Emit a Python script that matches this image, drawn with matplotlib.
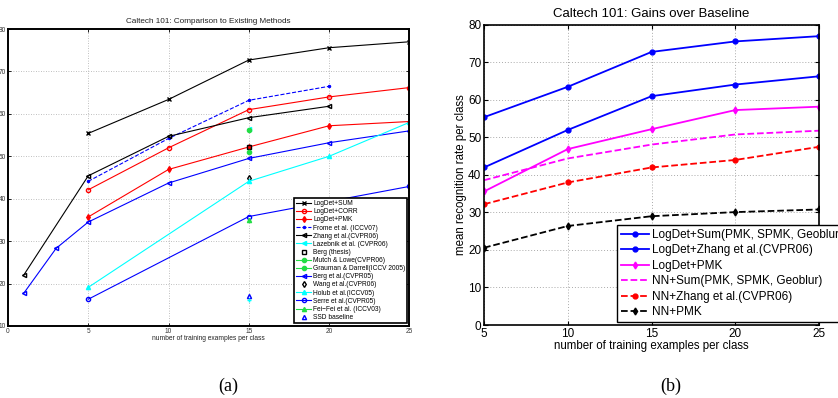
import matplotlib
matplotlib.use("Agg")
import matplotlib.pyplot as plt

plt.rcParams['font.family'] = ['Liberation Sans', 'DejaVu Sans']

# ---- left panel data (a) ----
x5 = [5, 10, 15, 20, 25]
logdet_sum = [55.4, 63.4, 72.7, 75.6, 77.0]
logdet_corr = [42.1, 52.0, 61.0, 64.0, 66.2]
logdet_pmk = [35.7, 46.9, 52.2, 57.2, 58.2]
frome_x = [5, 10, 15, 20]
frome = [44.1, 54.2, 63.2, 66.5]
zhang_x = [1, 5, 10, 15, 20]
zhang = [22.1, 45.4, 54.7, 59.1, 61.8]
lazebnik_x = [15]
lazebnik = [56.4]
berg_thesis_x = [15]
berg_thesis = [52.2]
mutch_x = [15]
mutch = [56.2]
grauman_x = [15]
grauman = [51.0]
berg_x = [1, 3, 5, 10, 15, 20, 25]
berg = [17.8, 28.3, 34.5, 43.7, 49.5, 53.2, 56.0]
wang_x = [15]
wang = [45.0]
holub_x = [5, 15, 20, 25]
holub = [19.1, 44.1, 50.0, 58.0]
serre_x = [5, 15, 25]
serre = [16.3, 35.8, 42.9]
feifei_x = [15]
feifei = [35.0]
extra_x = [15]
extra = [16.2]
ssd_x = [15]
ssd = [17.1]

# ---- right panel data (b) ----
xb = [5, 10, 15, 20, 25]
b_logdet_sum = [55.4, 63.5, 72.8, 75.6, 77.0]
b_logdet_zhang = [42.0, 52.0, 61.0, 64.1, 66.3]
b_logdet_pmk = [35.6, 46.9, 52.2, 57.3, 58.2]
b_nn_sum = [38.6, 44.4, 48.1, 50.8, 51.8]
b_nn_zhang = [32.2, 38.0, 42.0, 44.0, 47.5]
b_nn_pmk = [20.6, 26.4, 29.0, 30.1, 30.8]

fig = plt.figure(figsize=(8.38, 3.98), dpi=100)

BLUE = '#0000ff'
GREEN = '#22dd44'
CYAN = '#00ffff'

# ================= (a) =================
ax1 = fig.add_axes([0.0095, 0.181, 0.479, 0.746])
lw = 0.8
ms = 3
ax1.plot(x5, logdet_sum, 'k-', marker='x', lw=lw, ms=ms, label='LogDet+SUM')
ax1.plot(x5, logdet_corr, 'r-', marker='o', mfc='none', lw=lw, ms=ms, label='LogDet+CORR')
ax1.plot(x5, logdet_pmk, 'r-', marker='d', lw=lw, ms=ms, label='LogDet+PMK')
ax1.plot(frome_x, frome, '--', color=BLUE, marker='.', lw=lw, ms=ms, label='Frome et al. (ICCV07)')
ax1.plot(zhang_x, zhang, 'k-', marker='<', mfc='none', lw=lw, ms=ms, label='Zhang et al.(CVPR06)')
ax1.plot(lazebnik_x, lazebnik, '-', color=CYAN, marker='<', lw=lw, ms=ms, label='Lazebnik et al. (CVPR06)')
ax1.plot(berg_thesis_x, berg_thesis, 'ks', mfc='none', ms=2.5, label='Berg (thesis)')
ax1.plot(mutch_x, mutch, '-', color=GREEN, marker='o', lw=lw, ms=ms, label='Mutch & Lowe(CVPR06)')
ax1.plot(grauman_x, grauman, '-', color=GREEN, marker='o', lw=lw, ms=ms, label='Grauman & Darrell(ICCV 2005)')
ax1.plot(berg_x, berg, '-', color=BLUE, marker='<', mfc='none', lw=lw, ms=ms, label='Berg et al.(CVPR05)')
ax1.plot(wang_x, wang, 'kd', mfc='none', ms=ms, label='Wang et al.(CVPR06)')
ax1.plot(holub_x, holub, '-', color=CYAN, marker='^', lw=lw, ms=ms, label='Holub et al.(ICCV05)')
ax1.plot(serre_x, serre, '-', color=BLUE, marker='o', mfc='none', lw=lw, ms=ms, label='Serre et al.(CVPR05)')
ax1.plot(feifei_x, feifei, '-', color=GREEN, marker='^', lw=lw, ms=ms, label='Fei\u2212Fei et al. (ICCV03)')
ax1.plot(ssd_x, ssd, '^', color=BLUE, mfc='none', ms=ms, label='SSD baseline')
ax1.plot(extra_x, extra, '+', color=CYAN, ms=ms)

ax1.set_xlim(0, 25)
ax1.set_ylim(10, 80)
ax1.set_xticks([0, 5, 10, 15, 20, 25])
ax1.set_yticks(range(10, 81, 10))
ax1.tick_params(direction='in', top=True, right=True, labelsize=4.7, length=2,
                width=0.6, pad=1.5, labelcolor='#333333')
ax1.grid(True, ls=(0, (1, 2)), color='#aaaaaa', lw=0.6)
for s in ax1.spines.values():
    s.set_linewidth(1.4)
ax1.set_title('Caltech 101: Comparison to Existing Methods', fontsize=5.9, pad=4, color='#222222')
ax1.set_xlabel('number of training examples per class', fontsize=4.8, labelpad=0, color='#222222')
leg1 = ax1.legend(loc='lower right', bbox_to_anchor=(0.995, 0.01), fontsize=4.8,
                  frameon=True, fancybox=False, edgecolor='black', framealpha=1,
                  labelspacing=0.17, handlelength=2.2, handletextpad=0.3,
                  borderpad=0.3, borderaxespad=0)
leg1.get_frame().set_linewidth(1.2)

# ================= (b) =================
ax2 = fig.add_axes([0.5776, 0.1834, 0.3998, 0.754])
lw2 = 1.3
ms2 = 3.5
ax2.plot(xb, b_logdet_sum, '-', color=BLUE, marker='o', lw=lw2, ms=ms2,
         label='LogDet+Sum(PMK, SPMK, Geoblur)')
ax2.plot(xb, b_logdet_zhang, '-', color=BLUE, marker='o', lw=lw2, ms=ms2,
         label='LogDet+Zhang et al.(CVPR06)')
ax2.plot(xb, b_logdet_pmk, '-', color='#ff00ff', marker='d', lw=lw2, ms=ms2,
         label='LogDet+PMK')
ax2.plot(xb, b_nn_sum, '--', color='#ff00ff', lw=lw2,
         label='NN+Sum(PMK, SPMK, Geoblur)')
ax2.plot(xb, b_nn_zhang, '--', color='#ff0000', marker='o', lw=lw2, ms=ms2,
         label='NN+Zhang et al.(CVPR06)')
ax2.plot(xb, b_nn_pmk, '--', color='black', marker='d', lw=lw2, ms=ms2,
         label='NN+PMK')

ax2.set_xlim(5, 25)
ax2.set_ylim(0, 80)
ax2.set_xticks([5, 10, 15, 20, 25])
ax2.set_yticks(range(0, 81, 10))
ax2.tick_params(direction='in', top=True, right=True, labelsize=8.5, length=3,
                width=0.8, pad=2)
ax2.grid(True, ls=(0, (1, 2)), color='#aaaaaa', lw=0.7)
for s in ax2.spines.values():
    s.set_linewidth(1.2)
ax2.set_title('Caltech 101: Gains over Baseline', fontsize=9.5, pad=6)
ax2.set_xlabel('number of training examples per class', fontsize=8.3, labelpad=0)
ax2.set_ylabel('mean recognition rate per class', fontsize=8.3, labelpad=1)
leg2 = ax2.legend(loc='lower left', bbox_to_anchor=(0.397, 0.01), fontsize=8.5,
                  frameon=True, fancybox=False, edgecolor='black', framealpha=1,
                  labelspacing=0.3, handlelength=2.4, handletextpad=0.3,
                  borderpad=0.3, borderaxespad=0)
leg2.get_frame().set_linewidth(1.0)

# captions
fig.text(228 / 838, 1 - 386 / 398, '(a)', ha='center', va='center', fontsize=13,
         family=['Liberation Serif', 'DejaVu Serif'])
fig.text(671 / 838, 1 - 386 / 398, '(b)', ha='center', va='center', fontsize=13,
         family=['Liberation Serif', 'DejaVu Serif'])

fig.savefig('out.png', dpi=100)
